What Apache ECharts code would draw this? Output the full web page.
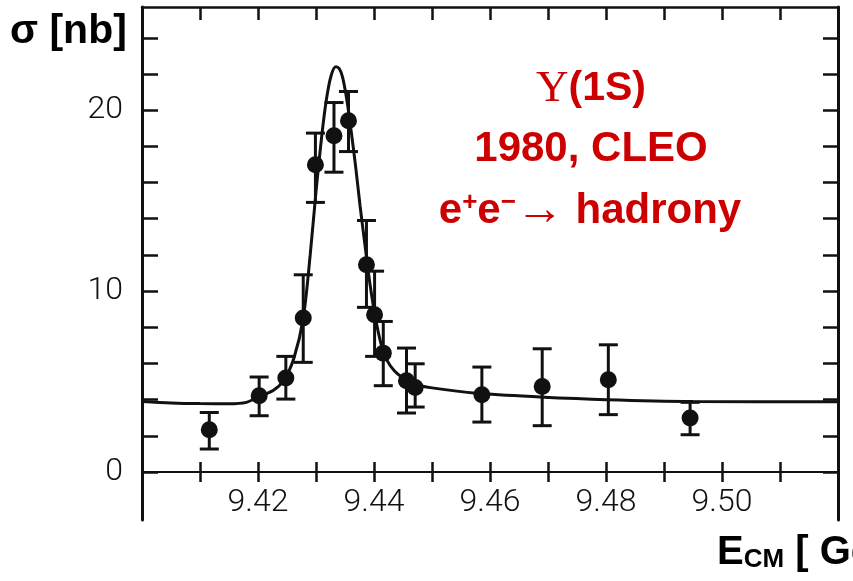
<!DOCTYPE html>
<html><head><meta charset="utf-8">
<script src="https://cdn.jsdelivr.net/npm/echarts@6/dist/echarts.min.js"></script>
<style>html,body{margin:0;padding:0;background:#fff}#c{width:853px;height:581px}</style>
</head><body><div id="c"></div>
<script>
// Measured data points: centre-of-mass energy [GeV] and cross-section [nb]
const energy = [9.4116, 9.4202, 9.4248, 9.4278, 9.4299, 9.4331, 9.4356, 9.4387, 9.4401, 9.4416, 9.4456, 9.4471, 9.4586, 9.4690, 9.4804, 9.4945];
const sigma  = [2.34, 4.22, 5.19, 8.51, 16.98, 18.58, 19.41, 11.45, 8.69, 6.57, 5.04, 4.67, 4.27, 4.73, 5.10, 2.98];
const errLow  = [1.27, 3.11, 4.03, 6.06, 14.90, 16.57, 17.71, 9.10, 6.39, 4.77, 3.26, 3.59, 2.76, 2.56, 3.17, 2.06];
const errHigh = [3.29, 5.25, 6.39, 10.90, 18.73, 20.42, 21.03, 13.90, 11.10, 8.32, 6.85, 5.98, 5.80, 6.81, 7.03, 3.85];
// Fitted curve
const curveE = [9.400, 9.405, 9.410, 9.415, 9.418, 9.4200, 9.4226, 9.4245, 9.4262, 9.4278, 9.4290, 9.4300, 9.4310, 9.4318, 9.4326, 9.4334, 9.4340, 9.4346, 9.4354, 9.4362, 9.4369, 9.4376, 9.4385, 9.4393, 9.4402, 9.4412, 9.4422, 9.4435, 9.4450, 9.4470, 9.4500, 9.4577, 9.4686, 9.4801, 9.4950, 9.5200];
const curveSigma = [3.90, 3.82, 3.78, 3.77, 3.85, 4.15, 4.50, 5.10, 6.30, 8.50, 12.00, 15.50, 18.60, 20.60, 21.90, 22.40, 22.30, 21.80, 20.40, 18.50, 16.70, 14.70, 12.40, 10.40, 8.60, 7.10, 6.20, 5.60, 5.20, 4.85, 4.65, 4.35, 4.15, 4.00, 3.90, 3.88];
// Axes
const xTicks = [9.41, 9.42, 9.43, 9.44, 9.45, 9.46, 9.47, 9.48, 9.49, 9.50, 9.51];
const xTickLabels = [9.42, 9.44, 9.46, 9.48, 9.50];
const yTicks = [0, 2, 4, 6, 8, 10, 12, 14, 16, 18, 20, 22, 24];
const yTickLabels = [0, 10, 20];

const ink = '#111';
const red = '#cc0000';
const tickFont = { fontFamily: 'Roboto', fontWeight: 300, fontSize: 32, color: '#111' };

const chart = echarts.init(document.getElementById('c'));
const xBase = { type: 'value', min: 9.40, max: 9.52, splitLine: { show: false }, gridIndex: 0 };
const yBase = { type: 'value', min: 0, max: 25.7, splitLine: { show: false }, gridIndex: 0 };
const tickStyle = { color: ink, width: 2.5 };

chart.setOption({
  animation: false,
  grid: [
    { left: 142, right: 15, top: 7, bottom: 109 },
    { left: 142, right: 15, top: 472, bottom: 61 }
  ],
  xAxis: [
    Object.assign({}, xBase, {
      position: 'bottom',
      axisLine: { show: true, onZero: false, lineStyle: { color: ink, width: 2 } },
      axisTick: { show: true, inside: false, length: 10, customValues: xTicks, lineStyle: tickStyle },
      axisLabel: Object.assign({ customValues: xTickLabels, margin: 15, formatter: v => v.toFixed(2) }, tickFont)
    }),
    Object.assign({}, xBase, {
      position: 'bottom',
      axisLine: { show: false, onZero: false },
      axisTick: { show: true, inside: true, length: 10, customValues: xTicks, lineStyle: tickStyle },
      axisLabel: { show: false }
    }),
    Object.assign({}, xBase, {
      position: 'top',
      axisLine: { show: true, onZero: false, lineStyle: { color: ink, width: 2.5 } },
      axisTick: { show: true, inside: true, length: 13, customValues: xTicks, lineStyle: tickStyle },
      axisLabel: { show: false }
    }),
    Object.assign({}, xBase, {
      gridIndex: 1, show: false
    })
  ],
  yAxis: [
    Object.assign({}, yBase, {
      position: 'left',
      axisLine: { show: true, onZero: false, lineStyle: { color: ink, width: 3 } },
      axisTick: { show: true, inside: true, length: 16, customValues: yTicks, lineStyle: tickStyle },
      axisLabel: Object.assign({ customValues: yTickLabels, margin: 19 }, tickFont)
    }),
    Object.assign({}, yBase, {
      position: 'right',
      axisLine: { show: true, onZero: false, lineStyle: { color: ink, width: 3 } },
      axisTick: { show: true, inside: true, length: 15, customValues: yTicks, lineStyle: tickStyle },
      axisLabel: { show: false }
    }),
    Object.assign({}, yBase, {
      gridIndex: 1, position: 'left', min: 0, max: 1,
      axisLine: { show: true, onZero: false, lineStyle: { color: ink, width: 3 } },
      axisTick: { show: false }, axisLabel: { show: false }
    }),
    Object.assign({}, yBase, {
      gridIndex: 1, position: 'right', min: 0, max: 1,
      axisLine: { show: true, onZero: false, lineStyle: { color: ink, width: 3 } },
      axisTick: { show: false }, axisLabel: { show: false }
    })
  ],
  series: [
    {
      type: 'line', xAxisIndex: 0, yAxisIndex: 0,
      data: curveE.map((e, i) => [e, curveSigma[i]]),
      showSymbol: false, smooth: 0.3,
      lineStyle: { color: ink, width: 3 }, z: 2
    },
    {
      type: 'custom', xAxisIndex: 0, yAxisIndex: 0,
      data: energy.map((e, i) => [e, errLow[i], errHigh[i]]),
      renderItem: function (params, api) {
        const pLo = api.coord([api.value(0), api.value(1)]);
        const pHi = api.coord([api.value(0), api.value(2)]);
        const hw = 9.5;
        const st = { stroke: ink, lineWidth: 3, fill: null };
        return { type: 'group', children: [
          { type: 'line', shape: { x1: pLo[0], y1: pLo[1], x2: pHi[0], y2: pHi[1] }, style: st },
          { type: 'line', shape: { x1: pLo[0] - hw, y1: pLo[1], x2: pLo[0] + hw, y2: pLo[1] }, style: st },
          { type: 'line', shape: { x1: pHi[0] - hw, y1: pHi[1], x2: pHi[0] + hw, y2: pHi[1] }, style: st }
        ] };
      },
      z: 3
    },
    {
      type: 'scatter', xAxisIndex: 0, yAxisIndex: 0,
      data: energy.map((e, i) => [e, sigma[i]]),
      symbol: 'circle', symbolSize: 17,
      itemStyle: { color: ink, opacity: 1 }, z: 4
    }
  ],
  graphic: [
    { type: 'text', x: 10, y: 32, style: { text: 'σ [nb]', fontFamily: 'Liberation Sans', fontWeight: 'bold', fontSize: 41, fill: '#000', textAlign: 'left', textVerticalAlign: 'middle', align: 'left', verticalAlign: 'middle' } },
    { type: 'text', x: 591, y: 89, style: {
        text: '{g|Υ}{b|(1S)}', textAlign: 'center', textVerticalAlign: 'middle', align: 'center', verticalAlign: 'middle',
        rich: {
          g: { fontFamily: 'Liberation Serif', fontSize: 45, fill: red, color: red },
          b: { fontFamily: 'Liberation Sans', fontWeight: 'bold', fontSize: 41, fill: red, color: red }
        } } },
    { type: 'text', x: 591, y: 149, style: { text: '1980, CLEO', fontFamily: 'Liberation Sans', fontWeight: 'bold', fontSize: 42, fill: red, textAlign: 'center', textVerticalAlign: 'middle', align: 'center', verticalAlign: 'middle' } },
    { type: 'text', x: 590, y: 211, style: {
        text: '{b|e}{p|+}{b|e}{p|−}{a|→}{b| hadrony}', textAlign: 'center', textVerticalAlign: 'middle', align: 'center', verticalAlign: 'middle',
        rich: {
          b: { fontFamily: 'Liberation Sans', fontWeight: 'bold', fontSize: 42, lineHeight: 42, fill: red, color: red },
          p: { fontFamily: 'Liberation Sans', fontWeight: 'bold', fontSize: 26, lineHeight: 26, verticalAlign: 'top', fill: red, color: red },
          a: { fontFamily: 'Liberation Serif', fontSize: 48, lineHeight: 42, fill: red, color: red }
        } } },
    { type: 'text', x: 717, y: 553, style: {
        text: '{e|E}{s|CM}{e| [ GeV]}', textAlign: 'left', textVerticalAlign: 'middle', align: 'left', verticalAlign: 'middle',
        rich: {
          e: { fontFamily: 'Liberation Sans', fontWeight: 'bold', fontSize: 40, lineHeight: 40, fill: '#000', color: '#000' },
          s: { fontFamily: 'Liberation Sans', fontWeight: 'bold', fontSize: 26, lineHeight: 26, verticalAlign: 'bottom', fill: '#000', color: '#000' }
        } } }
  ]
});
</script>
</body></html>
